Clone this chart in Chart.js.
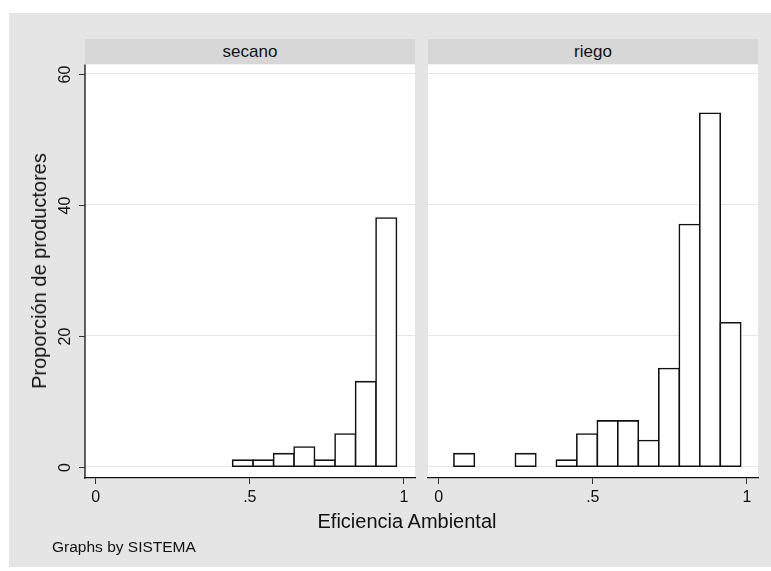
<!DOCTYPE html>
<html><head><meta charset="utf-8">
<script src="https://cdn.jsdelivr.net/npm/chart.js@4.4.0/dist/chart.umd.min.js"></script>
<style>
html,body{margin:0;padding:0;background:#fff;width:771px;height:571px;overflow:hidden;font-family:"Liberation Sans",Arial,sans-serif;}
#bg{position:absolute;left:9px;top:13px;width:762px;height:554px;background:#e5e5e5;}
.strip{position:absolute;top:39px;height:25px;background:#d7d7d7;text-align:center;line-height:26px;font-size:17px;color:#111;}
canvas{position:absolute;left:0;top:0;}
.txt{position:absolute;white-space:nowrap;color:#111;line-height:1;}
</style></head>
<body>
<div id="bg"></div>
<div class="strip" style="left:85px;width:330px" id="s1"></div>
<div class="strip" style="left:428px;width:330px" id="s2"></div>
<canvas id="c1" width="771" height="571"></canvas>
<canvas id="c2" width="771" height="571"></canvas>
<div class="txt" id="ytitle" style="left:39px;top:271px;font-size:20px;transform:translate(-50%,-50%) rotate(-90deg);"></div>
<div class="txt" id="xtitle" style="left:407px;top:521px;font-size:20px;transform:translate(-50%,-50%);"></div>
<div class="txt" id="note" style="left:52px;top:547px;font-size:15.5px;transform:translate(0,-50%);"></div>
<script>
// ---- data ----
const panelNames = ['secano', 'riego'];
const yTitle = 'Proporción de productores';
const xTitle = 'Eficiencia Ambiental';
const noteText = 'Graphs by SISTEMA';
const yTicks = [0, 20, 40, 60];
const yTickLabels = ['0', '20', '40', '60'];
const xTicks = [0, 0.5, 1];
const xTickLabels = ['0', '.5', '1'];
// bin centers and heights
const secanoBins = [0.4773, 0.5438, 0.6103, 0.6768, 0.7433, 0.8098, 0.8763, 0.9428];
const secanoCounts = [1, 1, 2, 3, 1, 5, 13, 38];
const riegoBins = [0.0823, 0.2818, 0.4148, 0.4813, 0.5478, 0.6143, 0.6808, 0.7473, 0.8138, 0.8803, 0.9468];
const riegoCounts = [2, 2, 1, 5, 7, 7, 4, 15, 37, 54, 22];

document.getElementById('s1').textContent = panelNames[0];
document.getElementById('s2').textContent = panelNames[1];
document.getElementById('ytitle').textContent = yTitle;
document.getElementById('xtitle').textContent = xTitle;
document.getElementById('note').textContent = noteText;

Chart.defaults.font.family = '"Liberation Sans", Arial, sans-serif';

const bgPlugin = {
  id: 'plotbg',
  beforeDraw(chart) {
    const a = chart.chartArea, ctx = chart.ctx;
    ctx.save(); ctx.fillStyle = '#ffffff';
    ctx.fillRect(a.left, a.top, a.right - a.left, a.bottom - a.top);
    ctx.restore();
  }
};
const yAxisPlugin = {
  id: 'yaxis',
  afterDraw(chart) {
    const ctx = chart.ctx, y = chart.scales.y, a = chart.chartArea;
    ctx.save();
    ctx.strokeStyle = '#111'; ctx.lineWidth = 1.3;
    ctx.beginPath(); ctx.moveTo(a.left, a.top); ctx.lineTo(a.left, a.bottom + 0.7); ctx.stroke();
    yTicks.forEach((v, i) => {
      const py = Math.round(y.getPixelForValue(v)) + 0.5;
      ctx.strokeStyle = '#333'; ctx.lineWidth = 1;
      ctx.beginPath(); ctx.moveTo(a.left - 6, py); ctx.lineTo(a.left, py); ctx.stroke();
      ctx.save();
      ctx.translate(a.left - 19, py);
      ctx.rotate(-Math.PI / 2);
      ctx.textAlign = 'center'; ctx.textBaseline = 'middle';
      ctx.font = '16px "Liberation Sans", Arial, sans-serif';
      ctx.fillStyle = '#111';
      ctx.fillText(yTickLabels[i], 0, 0);
      ctx.restore();
    });
    ctx.restore();
  }
};

function makeChart(id, bins, counts, padLeft, padRight, withY) {
  return new Chart(document.getElementById(id), {
    type: 'bar',
    data: {
      datasets: [{
        data: bins.map((x, i) => ({ x: x, y: counts[i] })),
        backgroundColor: '#ffffff',
        borderColor: '#111111',
        borderWidth: 1.6,
        borderSkipped: false,
        inflateAmount: 0.8,
        barPercentage: 1,
        categoryPercentage: 1
      }]
    },
    options: {
      responsive: false, animation: false, devicePixelRatio: 1,
      events: [],
      layout: { padding: { left: padLeft, right: padRight, top: 64.5, bottom: 53 } },
      plugins: { legend: { display: false }, tooltip: { enabled: false } },
      scales: {
        x: {
          type: 'linear', min: -0.035, max: 1.036, offset: false,
          afterBuildTicks: s => { s.ticks = xTicks.map(v => ({ value: v })); },
          afterFit: s => { s.height = 40; },
          grid: { display: true, offset: false, drawOnChartArea: false, drawTicks: true, tickLength: 6, tickColor: '#333', tickWidth: 1 },
          border: { display: true, color: '#111', width: 1.3 },
          ticks: {
            callback: (v, i) => xTickLabels[i],
            font: { size: 16 }, color: '#111', padding: 4,
            maxRotation: 0, minRotation: 0, autoSkip: false
          }
        },
        y: {
          min: -1.73, max: 61.45,
          afterBuildTicks: s => { s.ticks = yTicks.map(v => ({ value: v })); },
          afterFit: s => { s.width = 0; },
          grid: { color: '#e6e6e6', drawTicks: false, lineWidth: 1 },
          border: { display: false },
          ticks: { display: false }
        }
      }
    },
    plugins: withY ? [bgPlugin, yAxisPlugin] : [bgPlugin]
  });
}

makeChart('c1', secanoBins, secanoCounts, 85, 356, true);
makeChart('c2', riegoBins, riegoCounts, 428, 13, false);
</script>
</body></html>
